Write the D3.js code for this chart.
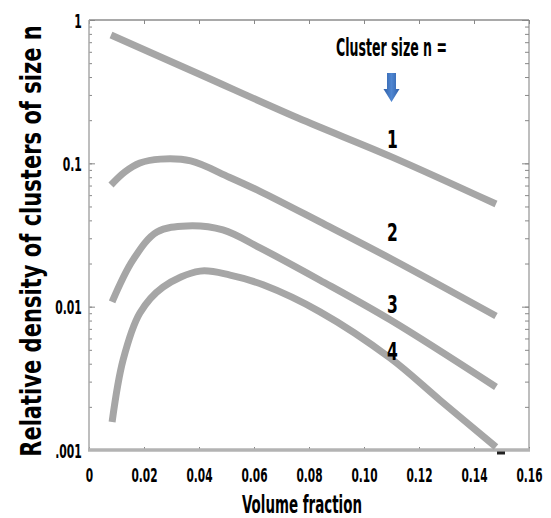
<!DOCTYPE html>
<html>
<head>
<meta charset="utf-8">
<script src="https://cdn.jsdelivr.net/npm/d3@7"></script>
<style>
  body { margin: 0; background: #fff; }
  svg { display: block; }
  text { fill: #000; }
</style>
</head>
<body>
<svg></svg>
<script>
const width = 551,
  height = 518

// tick values and labels
const xTicks = [0, 0.02, 0.04, 0.06, 0.08, 0.1, 0.12, 0.14, 0.16]
const xTickLabels = ["0", "0.02", "0.04", "0.06", "0.08", "0.10", "0.12", "0.14", "0.16"]
const yTicks = [0.001, 0.01, 0.1, 1]
const yTickLabels = [".001", "0.01", "0.1", "1"]

// curves, cluster size n = 1..4
const clusterSizes = ["1", "2", "3", "4"]
const xN1 = [0.008, 0.04, 0.076, 0.11, 0.148]
const yN1 = [0.785, 0.42, 0.207, 0.111, 0.052]
const xN2 = [0.008, 0.013, 0.0185, 0.026, 0.037, 0.051, 0.062, 0.084, 0.11, 0.148]
const yN2 = [0.0706, 0.087, 0.1005, 0.107, 0.104, 0.08, 0.064, 0.039, 0.0215, 0.0086]
const xN3 = [0.0084, 0.016, 0.0247, 0.0356, 0.0487, 0.0622, 0.084, 0.1095, 0.148]
const yN3 = [0.0108, 0.0212, 0.0332, 0.0366, 0.0343, 0.0257, 0.0153, 0.0081, 0.00275]
const xN4 = [0.0084, 0.0124, 0.0185, 0.0269, 0.0404, 0.0513, 0.0633, 0.084, 0.1095, 0.1276, 0.148]
const yN4 = [0.00157, 0.00425, 0.00903, 0.0137, 0.0177, 0.0166, 0.0142, 0.0092, 0.00438, 0.00223, 0.00105]

// where the "n" labels sit
const labelX = 0.11
const labelY = [0.148, 0.0332, 0.0104, 0.0049]

const series = [
  { x: xN1, y: yN1 },
  { x: xN2, y: yN2 },
  { x: xN3, y: yN3 },
  { x: xN4, y: yN4 },
].map(s => s.x.map((v, i) => [v, s.y[i]]))

const margin = { top: 20, right: 22, bottom: 68, left: 89 }
const x = d3.scaleLinear().domain([0, 0.16]).range([margin.left, width - margin.right])
const y = d3.scaleLog().domain([0.001, 1]).range([height - margin.bottom, margin.top])

const svg = d3.select("svg").attr("width", width).attr("height", height)

const frameColor = "#a9a9a9"
const tickColor = "#888"
const font = "'DejaVu Sans Condensed', 'Open Sans', sans-serif"

// squeeze a text horizontally so it is w pixels wide
const fitText = (sel, cx, cy, w, rot) => {
  const len = sel.node().getComputedTextLength()
  sel.attr("transform", `translate(${cx},${cy})${rot ? " rotate(-90)" : ""} scale(${w / len},1)`)
}

// minor log ticks
const minor = []
for (let e = -3; e < 0; e++) for (let k = 1; k < 10; k++) minor.push(k * Math.pow(10, e))
minor.push(1)

// frame: top and right
svg.append("line")
  .attr("x1", x(0)).attr("x2", x(0.16)).attr("y1", y(1)).attr("y2", y(1))
  .attr("stroke", frameColor).attr("stroke-width", 2)
svg.append("line")
  .attr("x1", x(0.16)).attr("x2", x(0.16)).attr("y1", y(1)).attr("y2", y(0.001))
  .attr("stroke", frameColor).attr("stroke-width", 1.5)

// inward tick axes
const styleTicks = g => {
  g.select(".domain").remove()
  g.selectAll("line").attr("stroke", tickColor).attr("stroke-width", 1)
  g.selectAll("text").remove()
}
svg.append("g").attr("transform", `translate(0,${y(1)})`)
  .call(d3.axisBottom(x).tickValues(xTicks).tickSize(4)).call(styleTicks)
svg.append("g").attr("transform", `translate(0,${y(0.001)})`)
  .call(d3.axisTop(x).tickValues(xTicks).tickSize(3)).call(styleTicks)
svg.append("g").attr("transform", `translate(${x(0)},0)`)
  .call(d3.axisRight(y).tickValues(minor).tickSize(3)).call(styleTicks)
svg.append("g").attr("transform", `translate(${x(0.16)},0)`)
  .call(d3.axisLeft(y).tickValues(minor).tickSize(4)).call(styleTicks)
svg.append("g").attr("transform", `translate(${x(0)},0)`)
  .call(d3.axisRight(y).tickValues(yTicks).tickSize(6)).call(styleTicks)
svg.append("g").attr("transform", `translate(${x(0.16)},0)`)
  .call(d3.axisLeft(y).tickValues(yTicks).tickSize(7)).call(styleTicks)

// left and bottom axis lines
svg.append("line")
  .attr("x1", x(0)).attr("x2", x(0)).attr("y1", y(1)).attr("y2", y(0.001))
  .attr("stroke", frameColor).attr("stroke-width", 1.5)
svg.append("line")
  .attr("x1", x(0) - 1).attr("x2", x(0.16) + 1).attr("y1", y(0.001)).attr("y2", y(0.001))
  .attr("stroke", "#b3b3b3").attr("stroke-width", 3.5)

// tick labels
const xAxis = svg.append("g").attr("transform", `translate(0,${y(0.001)})`)
  .call(d3.axisBottom(x).tickValues(xTicks).tickSize(0).tickFormat((d, i) => xTickLabels[i]))
xAxis.select(".domain").remove()
xAxis.selectAll("text")
  .attr("y", 32).attr("dy", 0)
  .attr("font-size", 19).attr("font-weight", 700)
  .attr("font-family", font)
  .attr("fill", "#000")
  .attr("transform", "scale(0.62,1)")

const yAxis = svg.append("g").attr("transform", `translate(${x(0)},0)`)
  .call(d3.axisLeft(y).tickValues(yTicks).tickSize(0).tickFormat((d, i) => yTickLabels[i]))
yAxis.select(".domain").remove()
yAxis.selectAll("text")
  .attr("x", -12).attr("dy", "0.36em")
  .attr("font-size", 20).attr("font-weight", 700)
  .attr("font-family", font)
  .attr("fill", "#000")
  .attr("transform", "scale(0.6,1)")

// curves
const line = d3.line()
  .x(d => x(d[0]))
  .y(d => y(d[1]))
  .curve(d3.curveCatmullRom.alpha(0.5))

svg.append("g")
  .selectAll("path")
  .data(series)
  .join("path")
  .attr("d", line)
  .attr("fill", "none")
  .attr("stroke", "#a6a6a6")
  .attr("stroke-width", 7)

// little dark mark under the end of n=4
svg.append("rect")
  .attr("x", x(xN4[xN4.length - 1]) + 1).attr("y", y(0.001) + 1.5)
  .attr("width", 8).attr("height", 3)
  .attr("fill", "#222")

// n labels
svg.append("g")
  .selectAll("text")
  .data(clusterSizes)
  .join("text")
  .attr("transform", (d, i) => `translate(${x(labelX) + 1},${y(labelY[i])}) scale(0.72,1)`)
  .attr("text-anchor", "middle")
  .attr("dy", "0.36em")
  .attr("font-size", 24)
  .attr("font-weight", 700)
  .attr("font-family", font)
  .text(d => d)

// legend title and arrow
svg.append("text")
  .attr("text-anchor", "middle")
  .attr("font-size", 25)
  .attr("font-weight", 700)
  .attr("font-family", font)
  .text("Cluster size n =")
  .call(fitText, x(labelX), 56, 111)

const ax = x(labelX)
const arrowGrad = svg.append("defs").append("linearGradient")
  .attr("id", "arrowGrad").attr("x1", 0).attr("x2", 1).attr("y1", 0).attr("y2", 0)
arrowGrad.append("stop").attr("offset", "0%").attr("stop-color", "#2f5fa8")
arrowGrad.append("stop").attr("offset", "50%").attr("stop-color", "#4f86d1")
arrowGrad.append("stop").attr("offset", "100%").attr("stop-color", "#2f5fa8")
svg.append("path")
  .attr("d", `M${ax - 4.5},73 L${ax + 4.5},73 L${ax + 4.5},89 L${ax + 8},89 L${ax},102 L${ax - 8},89 L${ax - 4.5},89 Z`)
  .attr("fill", "url(#arrowGrad)")

// axis titles
svg.append("text")
  .attr("text-anchor", "middle")
  .attr("font-size", 24)
  .attr("font-weight", 700)
  .attr("font-family", font)
  .text("Volume fraction")
  .call(fitText, 302, 513, 120)

svg.append("text")
  .attr("text-anchor", "middle")
  .attr("font-size", 29)
  .attr("font-weight", 700)
  .attr("font-family", font)
  .text("Relative density of clusters of size n")
  .call(fitText, 41, 241, 432, true)
</script>
</body>
</html>
